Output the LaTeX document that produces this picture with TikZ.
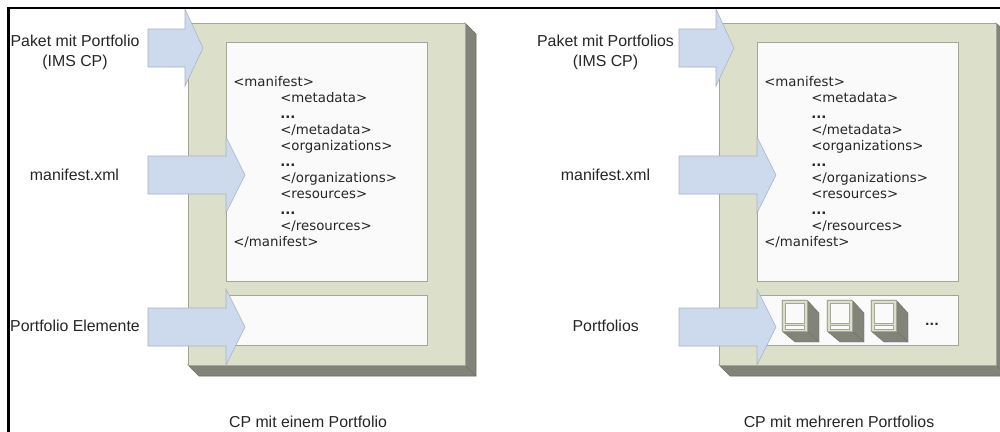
\documentclass[tikz,border=0pt]{standalone}
\usepackage{fontspec}
\setmainfont{Liberation Sans}
\newfontfamily\codefont{DejaVu Sans}
\definecolor{panelfill}{HTML}{DCE0CB}
\definecolor{shadefill}{HTML}{82847A}
\definecolor{shadeedge}{HTML}{6E7066}
\definecolor{paneledge}{HTML}{A4A698}
\definecolor{paperfill}{HTML}{FAFAFA}
\definecolor{arrowfill}{HTML}{CDD9EC}
\definecolor{arrowedge}{HTML}{A9B3BF}
\tikzset{
  panelface/.style={fill=panelfill,draw=paneledge,line width=0.6pt},
  shadeface/.style={fill=shadefill,draw=shadeedge,line width=0.4pt},
  paper/.style={fill=paperfill,draw=paneledge,line width=0.75pt},
  blockarrow/.style={fill=arrowfill,draw=arrowedge,line width=0.4pt,line join=miter},
  lbl/.style={inner sep=0pt,align=center,font=\fontsize{11.9}{15}\selectfont,text=black!85},
  oneline/.style={inner sep=0pt,anchor=base,font=\fontsize{11.9}{15}\selectfont,text=black!85},
  code/.style={inner sep=0pt,anchor=base west,font=\codefont\fontsize{10}{12}\selectfont,text=black!85},
  pics/cube/.style={code={
    \fill[shadefill,draw=shadeedge,line width=0.3pt] (0,0)--(25,0)--(37,13)--(37,42)--(13,42)--(0,31)--cycle;
    \draw[shadeedge,line width=0.3pt] (25,31)--(37,42);
    \fill[panelfill,draw=paneledge,line width=0.6pt] (0,0) rectangle (25,31);
    \fill[paperfill,draw=paneledge,line width=0.4pt] (3.5,3) rectangle (22,23);
    \fill[paperfill,draw=paneledge,line width=0.4pt] (3.5,25) rectangle (22,29);
  }}
}
\newcommand{\panelbox}[1]{%
  \begin{scope}[xshift=#1*0.75pt]
    \draw[shadeface] (188,365)--(465,365)--(465,23)--(476,34)--(476,376)--(199,376)--cycle;
    \draw[shadeface] (465,365)--(476,376);
    \draw[panelface] (188,23) rectangle (465,365);
    \draw[paper] (226,42) rectangle (427,281);
    \draw[paper] (226,295) rectangle (427,345);
    \draw[blockarrow] (148,29)--(185,29)--(185,9)--(203,48)--(185,86)--(185,67)--(148,67)--cycle;
    \draw[blockarrow] (148,156)--(226,156)--(226,137)--(245,175)--(226,213)--(226,194)--(148,194)--cycle;
    \draw[blockarrow] (148,308)--(226,308)--(226,289)--(245,327)--(226,365)--(226,346)--(148,346)--cycle;
    \node[code] (m#1a) at (233,86) {<manifest>};
    \node[code] (m#1b) at (280,102) {<metadata>};
    \node[code] (m#1c) at (280,118) {\textbf{...}};
    \node[code] (m#1d) at (280,134) {</metadata>};
    \node[code] (m#1e) at (280,150) {<organizations>};
    \node[code] (m#1f) at (280,166) {\textbf{...}};
    \node[code] (m#1g) at (280,182) {</organizations>};
    \node[code] (m#1h) at (280,198) {<resources>};
    \node[code] (m#1i) at (280,214) {\textbf{...}};
    \node[code] (m#1j) at (280,230) {</resources>};
    \node[code] (m#1k) at (233,246) {</manifest>};
  \end{scope}}
\begin{document}
\begin{tikzpicture}[x=0.75pt,y=-0.75pt]
  \useasboundingbox (0,0) rectangle (1000,432);
  \clip (0,0) rectangle (1000,432);
  \fill[white] (0,0) rectangle (1000,432);
  \panelbox{0}
  \panelbox{531}
  \draw[black,line width=1.6pt] (8.5,432)--(8.5,8)--(1000,8);
  \pic at (782,300) {cube};
  \pic at (827,300) {cube};
  \pic at (871,300) {cube};
  \node[code,anchor=base,font=\codefont\fontsize{9}{11}\selectfont\bfseries] (dots) at (932,325) {...};
  \node[lbl] (t1) at (75,52.5) {Paket mit Portfolio\\(IMS CP)};
  \node[oneline] (t2) at (74.5,180) {manifest.xml};
  \node[oneline] (t3) at (75,331.5) {Portfolio Elemente};
  \node[lbl] (t4) at (605.5,52.5) {Paket mit Portfolios\\(IMS CP)};
  \node[oneline] (t5) at (605.5,180) {manifest.xml};
  \node[oneline] (t6) at (605.7,331) {Portfolios};
  \node[oneline] (c1) at (308,427.5) {CP mit einem Portfolio};
  \node[oneline] (c2) at (839,427.5) {CP mit mehreren Portfolios};
\end{tikzpicture}
\end{document}
